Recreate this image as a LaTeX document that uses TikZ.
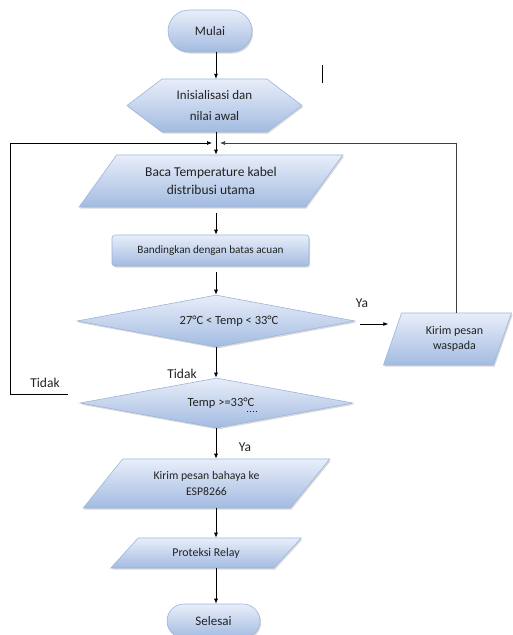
\documentclass[tikz,border=0pt]{standalone}
\usepackage{fontspec}
\setmainfont{Carlito}
\usepackage{xcolor}
\usepackage{tikz}
\usetikzlibrary{shapes.geometric}
\usetikzlibrary{shadows}
\usetikzlibrary{calc}
\usetikzlibrary {arrows.meta}

\definecolor{fillTop}{HTML}{E8EEF9}
\definecolor{fillBottom}{HTML}{A3BBE1}
\definecolor{edgeBlue}{HTML}{9CB4DC}
\definecolor{textGray}{HTML}{222222}

\begin{document}
\begin{tikzpicture}[x=1pt, y=-1pt,
        blueshape/.style={top color=fillTop, bottom color=fillBottom, draw=edgeBlue, line width=0.6pt,
            drop shadow={shadow xshift=1.2pt, shadow yshift=-1.6pt, opacity=0.3}},
        terminal/.style={blueshape, rectangle, inner sep=0pt, text=textGray},
        inout/.style={blueshape, trapezium, trapezium stretches=true, inner sep=0pt, align=center, text=textGray},
        decision/.style={blueshape, diamond, aspect=5.3, inner sep=0pt, text=textGray},
        flow/.style={-{Latex[length=5pt,width=4pt]}, line width=0.7pt},
        lbl/.style={text=textGray, font=\fontsize{13.5}{16}\selectfont}]
        \useasboundingbox (0,0) rectangle (512,635);
        \coordinate (axis) at (216,0);
        \coordinate (merge) at (216,143);

        % Start
        \node[terminal, rounded corners=21pt, minimum width=84, minimum height=42,
            font=\fontsize{13}{16}\selectfont] (start) at (210,31) {Mulai};

        % Initialisation
        \draw[blueshape] (127,105.5) -- (162,79) -- (267,79) -- (302,105.5) -- (267,132) -- (162,132) -- cycle;
        \node[inner sep=0pt, minimum width=175, minimum height=53, align=center, text=textGray,
            font=\fontsize{13}{20.5}\selectfont] (init) at (214.5,105.5) {Inisialisasi dan\\nilai awal};
        \draw[line width=0.7pt] (322,65) -- (322,83);

        % Read temperature
        \node[inout, trapezium left angle=46.7, trapezium right angle=133.3, minimum width=264, minimum height=52,
            font=\fontsize{13.5}{18.3}\selectfont] (read) at (211,181) {Baca Temperature kabel\\distribusi utama};

        % Compare
        \node[blueshape, rectangle, rounded corners=3pt, minimum width=197, minimum height=31, text=textGray,
            font=\fontsize{11.2}{14}\selectfont] (compare) at (210.5,250.5) {Bandingkan dengan batas acuan};

        % First check
        \node[decision, minimum width=278, minimum height=52,
            font=\fontsize{12.5}{15}\selectfont] (check1) at (216,321) {\hspace{26pt}27°C < Temp < 33°C};

        % Warning
        \node[inout, trapezium left angle=60.9, trapezium right angle=119.1, minimum width=129, minimum height=52,
            font=\fontsize{12}{15}\selectfont] (warn) at (447.5,339) {\hspace{14pt}Kirim pesan\\\hspace{14pt}waspada};

        % Second check
        \node[decision, minimum width=273, minimum height=50,
            font=\fontsize{12.5}{15}\selectfont] (check2) at (216.5,403) {\hspace{9pt}Temp >=33°C};
        \draw[blue, dotted, line width=0.9pt] (247,411) -- (257,411);

        % Danger message
        \node[inout, trapezium left angle=45, trapezium right angle=135, minimum width=247, minimum height=49,
            font=\fontsize{11.7}{16.7}\selectfont] (danger) at (206.5,483.5) {Kirim pesan bahaya ke\\ESP8266};

        % Relay
        \node[inout, trapezium left angle=36.9, trapezium right angle=143.1, minimum width=192, minimum height=30,
            font=\fontsize{11.9}{14}\selectfont] (relay) at (206,553) {Proteksi Relay};

        % End
        \node[terminal, rounded corners=17pt, minimum width=93, minimum height=34,
            font=\fontsize{13}{16}\selectfont] (stop) at (213.5,621) {Selesai};

        % Connectors
        \draw[flow] (start.south -| axis) -- (init.north -| axis);
        \draw[flow] (init.south -| axis) -- (read.north -| axis);
        \draw[flow] (read.south -| axis) ++(0,6) -- (compare.north -| axis);
        \draw[flow] (compare.south -| axis) ++(0,6) -- (check1.north -| axis);
        \draw[flow] (check1.east) ++(5,3) -- ++(28,0);
        \draw[flow] (check1.south -| axis) -- (check2.north -| axis);
        \draw[flow] (check2.south -| axis) -- (danger.north -| axis);
        \draw[flow] (danger.south -| axis) -- (relay.north -| axis);
        \draw[flow] (relay.south -| axis) -- (stop.north -| axis);

        % Loops back
        \coordinate (noEnd) at (68,394);
        \draw[flow] (noEnd) -- (10,394) |- ([xshift=-4pt]merge);
        \draw[flow, draw=black!75] ($(warn.top left corner)!0.5!(warn.top right corner)$) |- ([xshift=4pt]merge);

        % Labels
        \node[lbl] (yes1) at (362,303) {Ya};
        \node[lbl] (no1) at (182,374) {Tidak};
        \node[lbl] (yes2) at (245,447) {Ya};
        \node[lbl] (no2) at (45,383) {Tidak};
    \end{tikzpicture}
\end{document}
